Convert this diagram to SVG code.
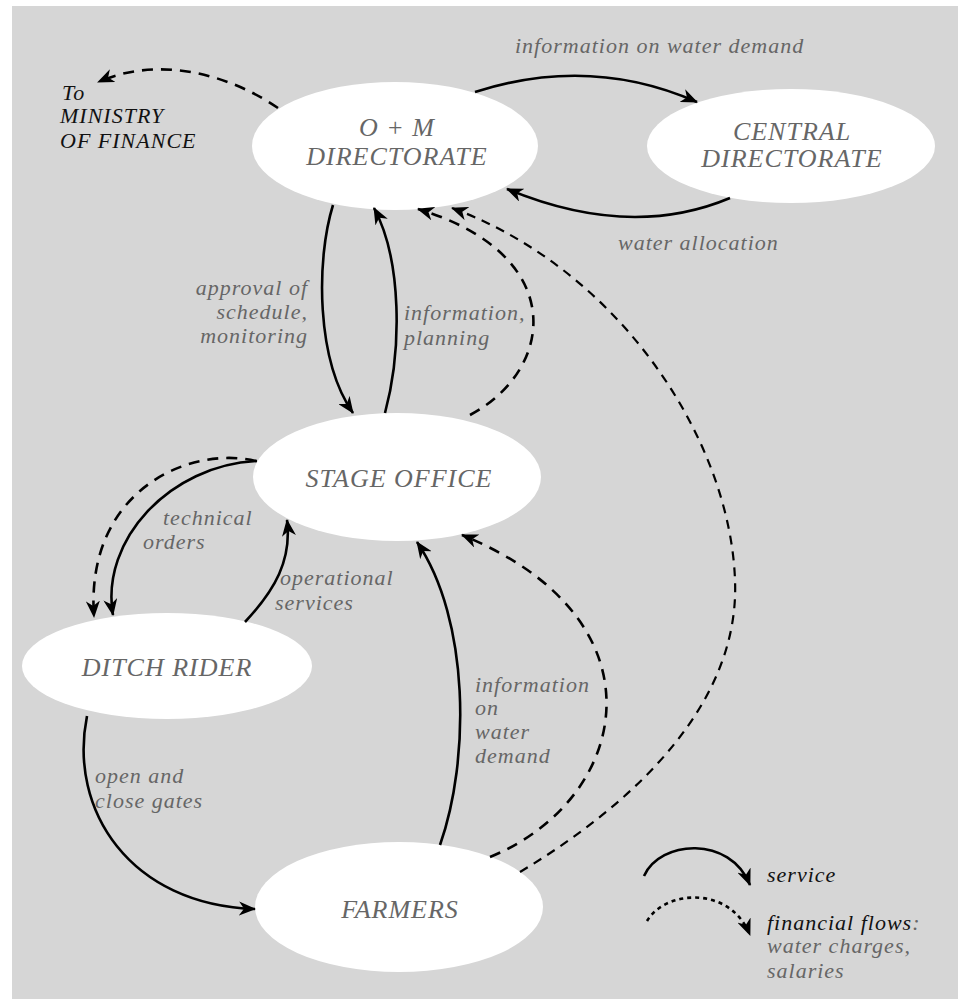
<svg xmlns="http://www.w3.org/2000/svg" width="959" height="999" viewBox="0 0 959 999">
<style>
.bg{fill:#d6d6d6}
.node ellipse{fill:#fff}
.nt{font-family:"Liberation Serif",serif;font-style:italic;font-size:26px;fill:#666;letter-spacing:1px;text-anchor:middle}
.lbl{font-family:"Liberation Serif",serif;font-style:italic;font-size:22px;fill:#666;letter-spacing:1px}
.blk{fill:#111}
.s{fill:none;stroke:#000;stroke-width:2.6;marker-end:url(#ah)}
.d{fill:none;stroke:#000;stroke-width:2.6;stroke-dasharray:11 8;marker-end:url(#ah)}
.d2{fill:none;stroke:#000;stroke-width:2.2;stroke-dasharray:9 7;marker-end:url(#ah)}
.dot{fill:none;stroke:#000;stroke-width:2.6;stroke-dasharray:4 4;marker-end:url(#ah)}
</style>
<defs>
<marker id="ah" markerUnits="userSpaceOnUse" markerWidth="18" markerHeight="14" viewBox="0 0 18 14" refX="16" refY="7" orient="auto">
<path d="M0,0 L17,7 L0,14 L5,7 z" fill="#000"/>
</marker>
</defs>
<rect x="0" y="0" width="959" height="999" fill="#fff"/>
<rect class="bg" x="12" y="6" width="946" height="993"/>

<g id="om" class="node">
<ellipse cx="395" cy="146" rx="143" ry="64"/>
<text class="nt" x="397" y="136">O + M</text>
<text class="nt" x="397" y="165">DIRECTORATE</text>
</g>
<g id="central" class="node">
<ellipse cx="791" cy="146" rx="144" ry="57"/>
<text class="nt" x="792" y="140">CENTRAL</text>
<text class="nt" x="792" y="167">DIRECTORATE</text>
</g>
<g id="stage" class="node">
<ellipse cx="397" cy="477" rx="144" ry="64"/>
<text class="nt" x="399" y="487">STAGE OFFICE</text>
</g>
<g id="ditch" class="node">
<ellipse cx="167" cy="666" rx="145" ry="53"/>
<text class="nt" x="167" y="676">DITCH RIDER</text>
</g>
<g id="farmers" class="node">
<ellipse cx="399" cy="907" rx="144" ry="65"/>
<text class="nt" x="400" y="918">FARMERS</text>
</g>

<g id="connectors">
<path class="d" d="M278 108 C230 75 160 55 98 82"/>
<path class="s" d="M475 92 Q590 55 697 102"/>
<path class="s" d="M730 198 Q630 240 507 189"/>
<path class="s" d="M333 205 C316 260 316 360 353 413"/>
<path class="s" d="M385 413 C402 350 402 260 374 208"/>
<path class="d" d="M470 415 C555 370 570 255 418 209"/>
<path class="d2" d="M520 872 C640 800 740 700 735 580 C730 440 620 270 452 208"/>
<path class="s" d="M257 461 C170 465 100 540 113 615"/>
<path class="d" d="M256 461 C190 445 85 490 94 617"/>
<path class="s" d="M245 622 C275 590 292 560 287 520"/>
<path class="s" d="M87 716 C68 810 130 905 255 909"/>
<path class="s" d="M440 845 C470 760 470 620 417 542"/>
<path class="d" d="M490 857 C630 800 670 620 462 535"/>
<path class="s" d="M644 876 C660 840 730 835 750 885"/>
<path class="dot" d="M647 921 C665 890 730 885 750 935"/>
</g>

<g id="labels">
<text class="lbl blk" x="62" y="100">To</text>
<text class="lbl blk" x="60" y="123">MINISTRY</text>
<text class="lbl blk" x="60" y="148">OF FINANCE</text>
<text class="lbl" x="515" y="53">information on water demand</text>
<text class="lbl" x="618" y="250">water allocation</text>
<text class="lbl" text-anchor="end" x="308" y="295">approval of</text>
<text class="lbl" text-anchor="end" x="308" y="319">schedule,</text>
<text class="lbl" text-anchor="end" x="308" y="343">monitoring</text>
<text class="lbl" x="404" y="320">information,</text>
<text class="lbl" x="404" y="345">planning</text>
<text class="lbl" x="163" y="525">technical</text>
<text class="lbl" x="143" y="549">orders</text>
<text class="lbl" x="280" y="585">operational</text>
<text class="lbl" x="275" y="610">services</text>
<text class="lbl" x="475" y="692">information</text>
<text class="lbl" x="475" y="715">on</text>
<text class="lbl" x="475" y="739">water</text>
<text class="lbl" x="475" y="763">demand</text>
<text class="lbl" x="95" y="783">open and</text>
<text class="lbl" x="95" y="808">close gates</text>
<text class="lbl blk" x="767" y="882">service</text>
<text class="lbl" x="767" y="930"><tspan class="blk">financial flows</tspan>:</text>
<text class="lbl" x="767" y="953">water charges,</text>
<text class="lbl" x="767" y="978">salaries</text>
</g>
</svg>
